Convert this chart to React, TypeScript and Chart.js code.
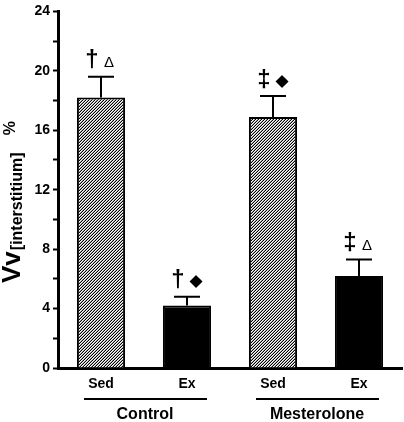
import React, { useEffect, useRef } from "react";
import { Chart, registerables } from "chart.js";
Chart.register(...registerables);

const categories = ["Sed", "Ex", "Sed", "Ex"];
const groups = ["Control", "Mesterolone"];
const means = [18.2, 4.2, 16.9, 6.2];
const sems = [1.4, 0.6, 1.4, 1.1];
const marksA = ["†", "†", "‡", "‡"];
const marksB = ["Δ", "◆", "◆", "Δ"];
const hatched = [true, false, true, false];
const yMin = 0;
const yMax = 24;
const yStep = 2;
const yLabelEvery = 4;

const FONT = "'Liberation Sans', Arial, sans-serif";

function makeHatch(): CanvasPattern | string {
  const c = document.createElement("canvas");
  const s = 3;
  c.width = s;
  c.height = s;
  const g = c.getContext("2d");
  if (!g) return "#fff";
  g.fillStyle = "#fff";
  g.fillRect(0, 0, s, s);
  g.fillStyle = "#000";
  for (let i = 0; i < s; i++) g.fillRect(i, s - 1 - i, 1, 1);
  g.fillStyle = "rgba(0,0,0,0.35)";
  for (let i = 0; i < s; i++) g.fillRect(i, (2 * s - 2 - i) % s, 1, 1);
  const p = g.createPattern(c, "repeat");
  return p || "#fff";
}

const extrasPlugin = {
  id: "extras",
  afterDatasetsDraw(chart: any) {
    const ctx = chart.ctx as CanvasRenderingContext2D;
    const meta = chart.getDatasetMeta(0);
    const y = chart.scales.y;
    meta.data.forEach((bar: any, i: number) => {
      const x = bar.x;
      const top = y.getPixelForValue(means[i]);
      const et = y.getPixelForValue(means[i] + sems[i]);
      ctx.save();
      ctx.strokeStyle = "#000";
      ctx.lineWidth = 2;
      ctx.beginPath();
      ctx.moveTo(x, top);
      ctx.lineTo(x, et);
      ctx.moveTo(x - 13, et);
      ctx.lineTo(x + 13, et);
      ctx.stroke();
      ctx.fillStyle = "#000";
      ctx.textAlign = "center";
      ctx.textBaseline = "middle";
      ctx.font = `bold 24px ${FONT}`;
      ctx.fillText(marksA[i], x - 9, et - 16);
      if (marksB[i] === "◆") {
        ctx.font = `17px 'DejaVu Sans'`;
        ctx.fillText(marksB[i], x + 9, et - 15);
      } else {
        ctx.font = `15px ${FONT}`;
        ctx.fillText(marksB[i], x + 8, et - 14);
      }
      ctx.restore();
    });
  },
  afterDraw(chart: any) {
    const ctx = chart.ctx as CanvasRenderingContext2D;
    const meta = chart.getDatasetMeta(0);
    ctx.save();
    ctx.strokeStyle = "#000";
    ctx.fillStyle = "#000";
    ctx.lineWidth = 2;
    groups.forEach((g, gi) => {
      const b1 = meta.data[gi * 2];
      const b2 = meta.data[gi * 2 + 1];
      ctx.beginPath();
      ctx.moveTo(b1.x - 17, 399);
      ctx.lineTo(b2.x + 20, 399);
      ctx.stroke();
      ctx.font = `bold 16px ${FONT}`;
      ctx.textAlign = "center";
      ctx.textBaseline = "middle";
      ctx.fillText(g, (b1.x + b2.x) / 2 + 1, 415);
    });
    // y title
    ctx.translate(20, 0);
    ctx.rotate(-Math.PI / 2);
    ctx.textAlign = "left";
    ctx.textBaseline = "alphabetic";
    const f1 = `bold 26px ${FONT}`;
    const f2 = `bold 16px ${FONT}`;
    const f3 = `bold 16px ${FONT}`;
    ctx.font = f1;
    const w1 = ctx.measureText("Vv").width;
    ctx.font = f3;
    const w3 = ctx.measureText("%").width;
    const start = -283;
    ctx.font = f1;
    ctx.fillText("Vv", start, 0);
    ctx.font = f2;
    ctx.fillText("[interstitium]", start + w1 + 1, 2);
    ctx.font = f3;
    ctx.fillText("%", -(121 + w3), -5);
    ctx.restore();
  },
};

export default function App() {
  const ref = useRef<HTMLCanvasElement>(null);
  useEffect(() => {
    document.body.style.margin = "0";
    if (!ref.current) return;
    const hatch = makeHatch();
    const chart = new Chart(ref.current, {
      type: "bar",
      data: {
        labels: categories,
        datasets: [
          {
            data: means,
            backgroundColor: hatched.map((h) => (h ? hatch : "#000")) as any,
            borderColor: "#000",
            borderWidth: 2,
            barPercentage: 0.56,
            categoryPercentage: 1,
          },
        ],
      },
      options: {
        responsive: false,
        animation: false,
        layout: { padding: { top: 7, right: 2, left: 0, bottom: 0 } },
        plugins: { legend: { display: false }, tooltip: { enabled: false } },
        scales: {
          x: {
            offset: true,
            grid: { display: false, drawTicks: false },
            border: { display: true, color: "#000", width: 3 },
            ticks: {
              color: "#000",
              font: { family: FONT, size: 14, weight: "bold" },
              padding: 8,
            },
            afterFit: (s: any) => {
              s.height = 54;
            },
          },
          y: {
            min: yMin,
            max: yMax,
            ticks: {
              stepSize: yStep,
              autoSkip: false,
              color: "#000",
              font: { family: FONT, size: 14, weight: "bold" },
              padding: 3,
              callback: (v: any) => (Number(v) % yLabelEvery === 0 ? String(v) : ""),
            },
            grid: {
              drawOnChartArea: false,
              tickLength: 5,
              tickWidth: 2,
              tickColor: "#000",
            },
            border: { color: "#000", width: 3 },
            afterFit: (s: any) => {
              s.width = 58;
            },
          },
        },
      },
      plugins: [extrasPlugin],
    } as any);
    return () => chart.destroy();
  }, []);
  return (
    <div style={{ width: 404, height: 422 }}>
      <canvas ref={ref} width={404} height={422} style={{ display: "block" }} />
    </div>
  );
}
